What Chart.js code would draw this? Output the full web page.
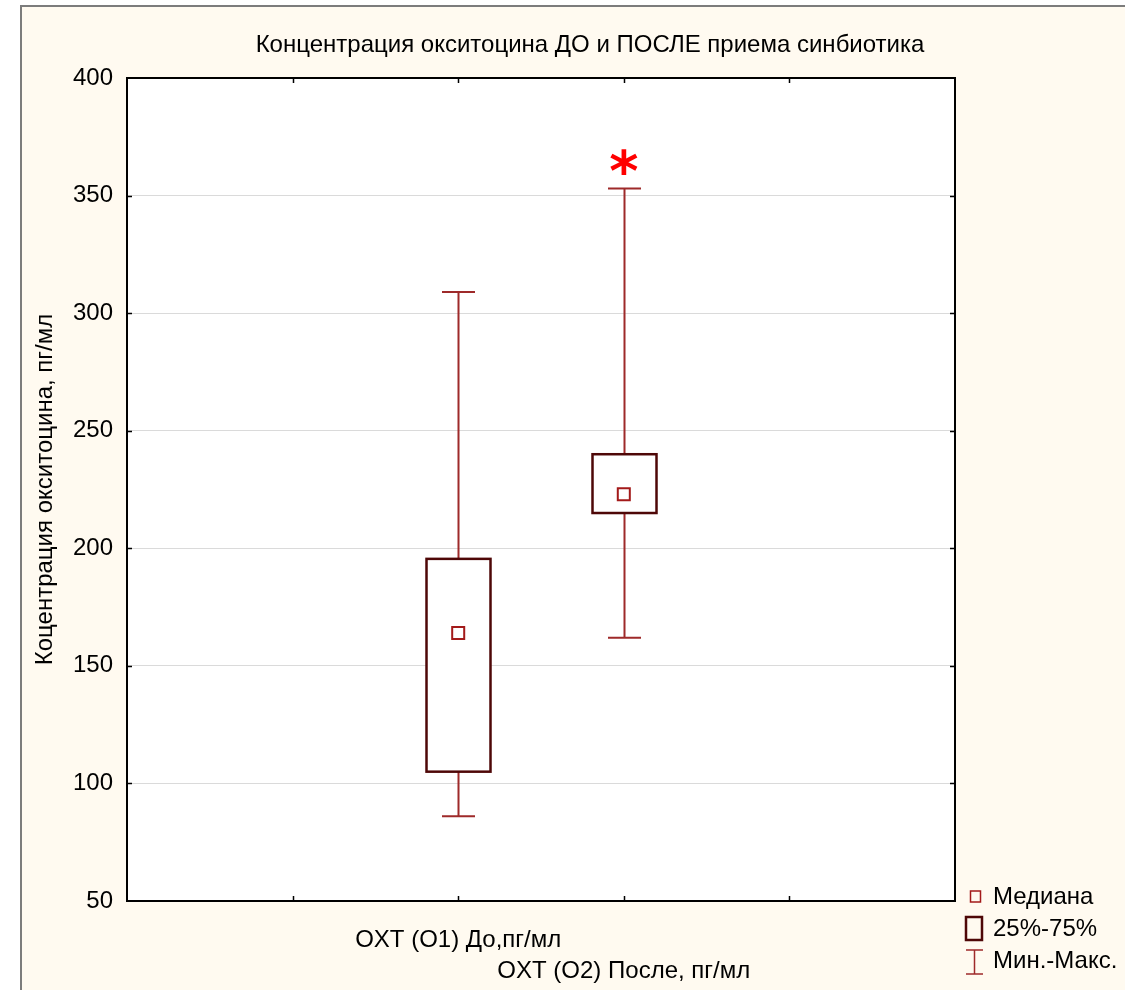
<!DOCTYPE html>
<html>
<head>
<meta charset="utf-8">
<script src="https://cdn.jsdelivr.net/npm/chart.js@4/dist/chart.umd.min.js"></script>
<style>
  html, body { margin: 0; padding: 0; background: #ffffff; }
  canvas { display: block; }
</style>
</head>
<body>
<canvas id="chart" width="1125" height="990"></canvas>
<script>
// Oxytocin concentration before / after the synbiotic course (pg/ml)
const groupLabels    = ['OXT (O1) До,пг/мл', 'OXT (O2) После, пг/мл'];
const groupPositions = [2, 3];
const minValues      = [86, 162];
const q1Values       = [105, 215];
const medianValues   = [164, 223];
const q3Values       = [195.5, 240];
const maxValues      = [309, 353];
const significant    = [false, true];
const yTickValues    = [50, 100, 150, 200, 250, 300, 350, 400];

const chartTitle = 'Концентрация окситоцина ДО и ПОСЛЕ приема синбиотика';
const yAxisTitle = 'Коцентрация окситоцина, пг/мл';
const legendItems = ['Медиана', '25%-75%', 'Мин.-Макс.'];

const FONT = "'Liberation Sans', Arial, sans-serif";
const STAR_FONT = "'DejaVu Sans', sans-serif";
const WHISKER_COLOR = '#9e2a2a';
const BOX_COLOR = '#4e0707';
const MEDIAN_COLOR = '#a31a1a';
const PAPER = '#fffaf0';

const boxPlotPlugin = {
  id: 'boxPlot',
  beforeDraw(chart) {
    const ctx = chart.ctx;
    const ca = chart.chartArea;
    ctx.save();
    ctx.fillStyle = '#ffffff';
    ctx.fillRect(0, 0, chart.width, chart.height);
    ctx.fillStyle = PAPER;
    ctx.fillRect(20, 5, chart.width - 20, chart.height - 5);
    ctx.strokeStyle = '#7c7c7c';
    ctx.lineWidth = 2;
    ctx.beginPath();
    ctx.moveTo(21, chart.height);
    ctx.lineTo(21, 6);
    ctx.lineTo(chart.width, 6);
    ctx.stroke();
    ctx.fillStyle = '#ffffff';
    ctx.fillRect(ca.left, ca.top, ca.right - ca.left, ca.bottom - ca.top);
    ctx.restore();
  },
  beforeDatasetsDraw(chart) {
    const ctx = chart.ctx;
    const xs = chart.scales.x, ys = chart.scales.y;
    const boxHalf = 32, capHalf = 16.5;
    ctx.save();
    groupPositions.forEach((pos, i) => {
      const cx = Math.round(xs.getPixelForValue(pos)) + 0.5;
      const yMin = ys.getPixelForValue(minValues[i]);
      const yQ1 = ys.getPixelForValue(q1Values[i]);
      const yQ3 = ys.getPixelForValue(q3Values[i]);
      const yMax = ys.getPixelForValue(maxValues[i]);
      // whiskers
      ctx.strokeStyle = WHISKER_COLOR;
      ctx.lineWidth = 2;
      ctx.beginPath();
      ctx.moveTo(cx, yMax); ctx.lineTo(cx, yQ3);
      ctx.moveTo(cx, yQ1); ctx.lineTo(cx, yMin);
      ctx.moveTo(cx - capHalf, yMax); ctx.lineTo(cx + capHalf, yMax);
      ctx.moveTo(cx - capHalf, yMin); ctx.lineTo(cx + capHalf, yMin);
      ctx.stroke();
      // interquartile box
      ctx.fillStyle = '#ffffff';
      ctx.fillRect(cx - boxHalf, yQ3, boxHalf * 2, yQ1 - yQ3);
      ctx.strokeStyle = BOX_COLOR;
      ctx.lineWidth = 2.5;
      ctx.strokeRect(cx - boxHalf, yQ3, boxHalf * 2, yQ1 - yQ3);
    });
    ctx.restore();
  },
  afterDraw(chart) {
    const ctx = chart.ctx;
    const ca = chart.chartArea;
    const xs = chart.scales.x, ys = chart.scales.y;
    ctx.save();
    // plot frame
    ctx.strokeStyle = '#000000';
    ctx.lineWidth = 2;
    ctx.strokeRect(ca.left, ca.top, ca.right - ca.left, ca.bottom - ca.top);
    // inward tick marks
    ctx.lineWidth = 1.5;
    ctx.beginPath();
    xs.ticks.forEach(t => {
      if (t.value <= xs.min || t.value >= xs.max) return;
      const px = Math.round(xs.getPixelForValue(t.value)) + 0.5;
      ctx.moveTo(px, ca.bottom); ctx.lineTo(px, ca.bottom - 5);
      ctx.moveTo(px, ca.top); ctx.lineTo(px, ca.top + 5);
    });
    ys.ticks.forEach(t => {
      if (t.value <= ys.min || t.value >= ys.max) return;
      const py = Math.round(ys.getPixelForValue(t.value)) + 0.5;
      ctx.moveTo(ca.left, py); ctx.lineTo(ca.left + 5, py);
      ctx.moveTo(ca.right, py); ctx.lineTo(ca.right - 5, py);
    });
    ctx.stroke();
    // chart title
    ctx.fillStyle = '#000000';
    ctx.font = '24px ' + FONT;
    ctx.textAlign = 'center';
    ctx.textBaseline = 'middle';
    ctx.fillText(chartTitle, 590, 45);
    // significance mark, sized to a 27 px glyph and centred above the whisker cap
    ctx.fillStyle = '#ff0000';
    ctx.textAlign = 'center';
    ctx.textBaseline = 'alphabetic';
    ctx.font = 'bold 60px ' + STAR_FONT;
    let m = ctx.measureText('*');
    const h0 = m.actualBoundingBoxAscent + m.actualBoundingBoxDescent;
    const starSize = h0 > 0 ? 60 * 27 / h0 : 60;
    ctx.font = 'bold ' + starSize.toFixed(1) + 'px ' + STAR_FONT;
    m = ctx.measureText('*');
    groupPositions.forEach((pos, i) => {
      if (!significant[i]) return;
      const cy = ys.getPixelForValue(maxValues[i]) - 27;
      ctx.fillText('*', xs.getPixelForValue(pos), cy + (m.actualBoundingBoxAscent - m.actualBoundingBoxDescent) / 2);
    });
    // legend
    const lx = ca.right + 11;
    const tx = ca.right + 38;
    const rows = [897, 929, 961];
    ctx.font = '24px ' + FONT;
    ctx.fillStyle = '#000000';
    ctx.textAlign = 'left';
    ctx.textBaseline = 'middle';
    legendItems.forEach((txt, k) => ctx.fillText(txt, tx, rows[k]));
    ctx.strokeStyle = MEDIAN_COLOR;
    ctx.lineWidth = 1.5;
    ctx.strokeRect(lx + 4.5, rows[0] - 6, 10, 11);
    ctx.strokeStyle = BOX_COLOR;
    ctx.lineWidth = 2.5;
    ctx.strokeRect(lx, rows[1] - 12, 16, 23);
    ctx.strokeStyle = WHISKER_COLOR;
    ctx.lineWidth = 1.5;
    ctx.beginPath();
    ctx.moveTo(lx + 8.5, rows[2] - 11); ctx.lineTo(lx + 8.5, rows[2] + 13);
    ctx.moveTo(lx, rows[2] - 11); ctx.lineTo(lx + 17, rows[2] - 11);
    ctx.moveTo(lx, rows[2] + 13); ctx.lineTo(lx + 17, rows[2] + 13);
    ctx.stroke();
    ctx.restore();
  }
};

new Chart(document.getElementById('chart'), {
  type: 'scatter',
  data: {
    datasets: [{
      label: 'Медиана',
      data: groupPositions.map((x, i) => ({ x: x, y: medianValues[i] })),
      pointStyle: 'rect',
      radius: 8.5,
      borderWidth: 2,
      borderColor: MEDIAN_COLOR,
      backgroundColor: '#ffffff'
    }]
  },
  options: {
    responsive: false,
    devicePixelRatio: 1,
    animation: false,
    events: [],
    layout: { padding: { left: 0, right: 170, top: 78, bottom: 0 } },
    plugins: {
      legend: { display: false },
      title: { display: false },
      tooltip: { enabled: false }
    },
    scales: {
      x: {
        type: 'linear',
        min: 0,
        max: 5,
        afterFit: s => { s.height = 89; },
        grid: { display: false },
        border: { display: false },
        ticks: {
          stepSize: 1,
          autoSkip: false,
          maxRotation: 0,
          padding: 15.5,
          color: '#000000',
          font: { family: FONT, size: 24, lineHeight: 1.3 },
          callback: v => {
            const k = groupPositions.indexOf(v);
            if (k < 0) return '';
            return k % 2 === 1 ? ['', groupLabels[k]] : groupLabels[k];
          }
        }
      },
      y: {
        min: 50,
        max: 400,
        afterFit: s => { s.width = 127; },
        afterBuildTicks: s => { s.ticks = yTickValues.map(v => ({ value: v })); },
        grid: { color: '#dadada', lineWidth: 1, drawTicks: false },
        border: { display: false },
        ticks: {
          padding: 14,
          color: '#000000',
          font: { family: FONT, size: 24 }
        },
        title: {
          display: true,
          text: yAxisTitle,
          color: '#000000',
          font: { family: FONT, size: 24, lineHeight: 1.2 },
          padding: { top: 31, bottom: 0 }
        }
      }
    }
  },
  plugins: [boxPlotPlugin]
});
</script>
</body>
</html>
